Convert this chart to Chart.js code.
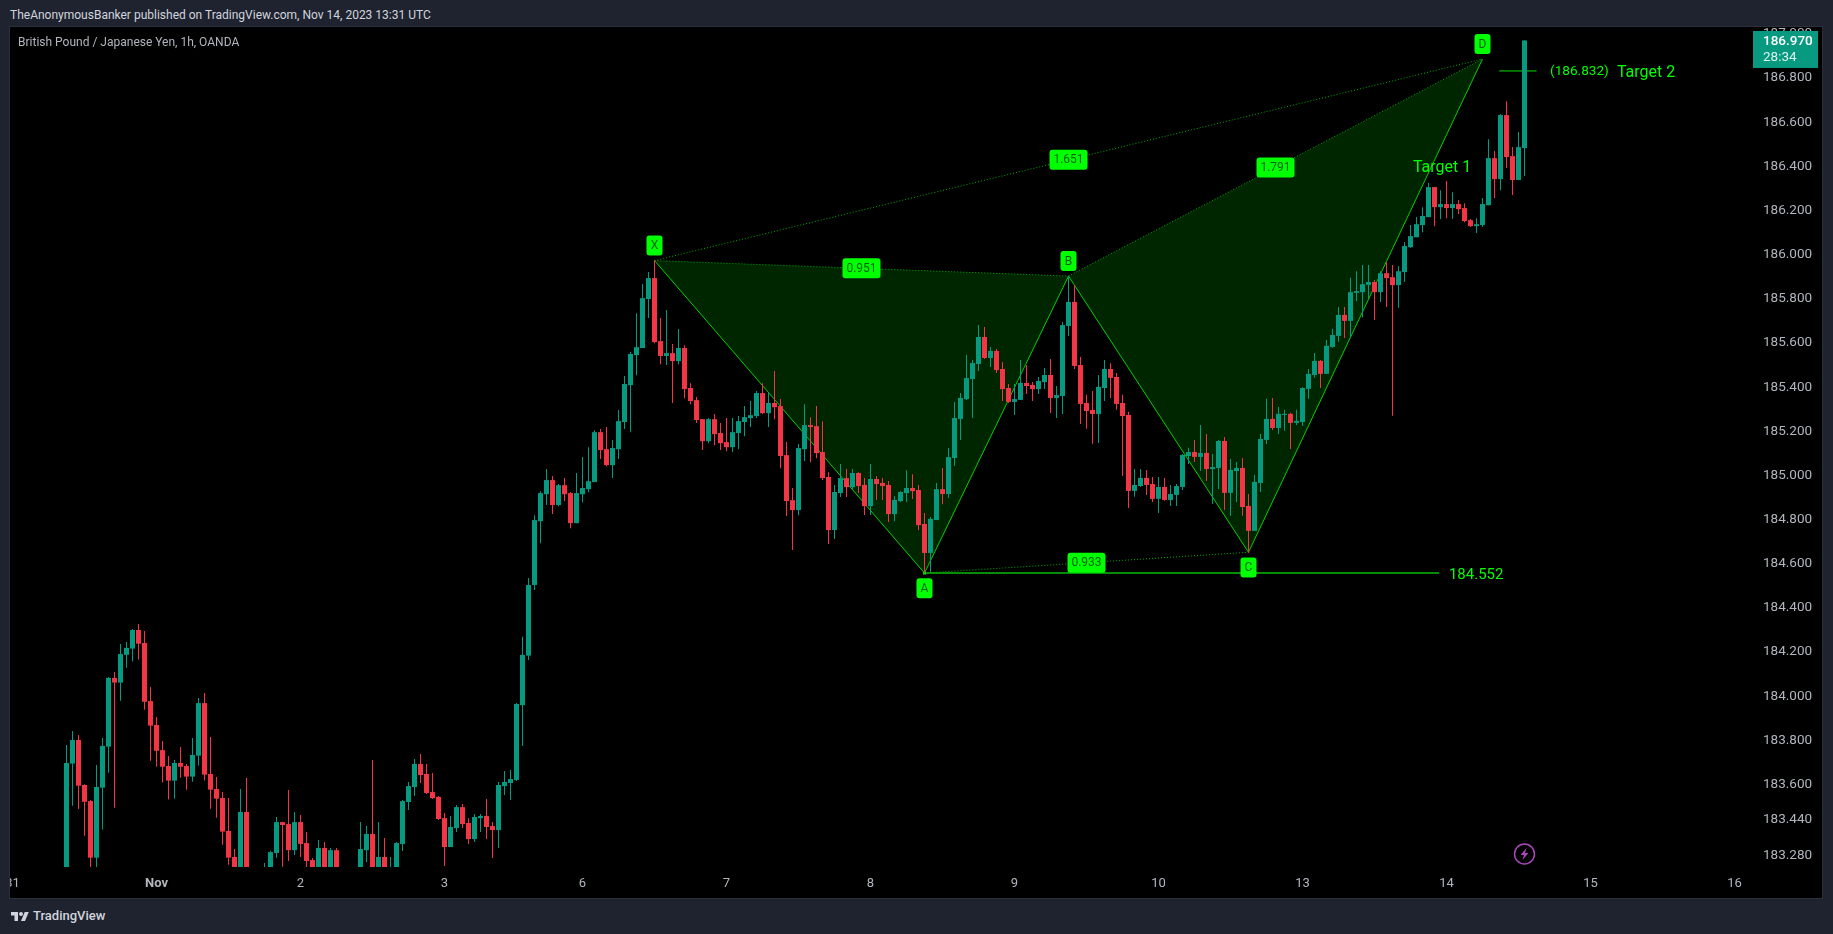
<!DOCTYPE html>
<html>
<head>
<meta charset="utf-8">
<title>GBP/JPY 1h</title>
<script src="https://cdn.jsdelivr.net/npm/chart.js@4"></script>
<style>
    html, body { margin: 0; padding: 0; width: 1833px; height: 934px; overflow: hidden; background: #1f2330; font-family: Roboto, sans-serif; }
    #header { position: absolute; left: 10px; top: 7px; font-size: 12px; line-height: 16px; color: #d1d4dc; white-space: nowrap; }
    #pane { position: absolute; left: 9px; top: 26px; width: 1812px; height: 871px; background: #000; border: 1px solid #2c303c; }
    #pane canvas { position: absolute; left: 0; top: 0; }
    #title { position: absolute; left: 8px; top: 7px; font-size: 12px; line-height: 16px; color: #b2b5be; white-space: nowrap; }
    #footer { position: absolute; left: 10px; top: 907px; height: 18px; font-size: 13px; line-height: 18px; font-weight: 500; color: #d1d4dc; }
    #footer svg { position: absolute; left: 0; top: 3px; }
    #footer span { position: absolute; left: 23px; top: 0; white-space: nowrap; }
</style>
</head>
<body>
<div id="header">TheAnonymousBanker published on TradingView.com, Nov 14, 2023 13:31 UTC</div>
<div id="pane">
    <canvas id="chart" width="1812" height="871"></canvas>
    <div id="title">British Pound / Japanese Yen, 1h, OANDA</div>
</div>
<div id="footer">
    <svg width="20" height="12" viewBox="0 0 36 24"><path fill="#d1d4dc" d="M14 22H7V11H0V4h14v18zM28 22h-8l7.5-18h8L28 22z"/><circle fill="#d1d4dc" cx="20" cy="8" r="4"/></svg>
    <span>TradingView</span>
</div>
<script>
'use strict';

// Hourly candles, one entry per bar. Anything under the axis floor is clipped in the original too.
const openPrices = [
    183.100,183.695,183.802,183.598,183.525,183.269,183.586,183.772,184.083,184.062,
    184.188,184.216,184.300,184.241,183.978,183.870,183.756,183.684,183.618,183.698,
    183.684,183.636,183.731,183.969,183.648,183.580,183.539,183.390,183.272,183.150,
    183.476,183.150,183.120,183.100,183.180,183.290,183.430,183.421,183.303,183.430,
    183.335,183.258,183.150,183.313,183.150,183.303,183.150,183.120,183.150,183.150,
    183.303,183.376,183.150,183.272,183.150,183.200,183.331,183.521,183.589,183.693,
    183.648,183.566,183.544,183.448,183.317,183.403,183.498,183.426,183.353,183.448,
    183.458,183.412,183.394,183.593,183.607,183.621,183.960,184.184,184.504,184.793,
    184.915,184.979,184.866,184.956,184.920,184.784,184.915,184.938,184.970,185.196,
    185.119,185.047,185.119,185.242,185.409,185.545,185.577,185.799,185.894,185.608,
    185.541,185.554,185.518,185.577,185.396,185.341,185.255,185.155,185.255,185.192,
    185.151,185.128,185.192,185.242,185.260,185.269,185.373,185.282,185.328,185.314,
    185.092,184.888,184.843,185.119,185.228,185.223,185.106,184.993,184.753,184.920,
    184.988,184.947,185.011,184.957,184.861,184.984,184.966,184.957,184.825,184.884,
    184.920,184.943,184.934,184.780,184.649,184.798,184.938,184.916,185.079,185.256,
    185.346,185.437,185.505,185.627,185.532,185.564,185.482,185.396,185.333,185.342,
    185.419,185.410,185.391,185.423,185.455,185.351,185.360,185.677,185.786,185.500,
    185.328,185.297,185.278,185.396,185.482,185.446,185.328,185.274,184.930,184.952,
    184.989,184.961,184.894,184.948,184.889,184.912,184.948,185.088,185.106,185.084,
    185.102,185.029,185.034,185.156,184.921,185.020,185.034,184.862,184.749,184.966,
    185.161,185.256,185.215,185.274,185.279,185.238,185.242,185.392,185.455,185.519,
    185.460,185.582,185.632,185.727,185.700,185.827,185.830,185.863,185.876,185.830,
    185.916,185.898,185.862,185.921,186.034,186.079,186.134,186.170,186.306,186.215,
    186.229,186.211,186.229,186.211,186.156,186.129,186.134,186.224,186.437,186.342,
    186.632,186.446,186.338,186.483
];
const closePrices = [
    183.698,183.802,183.595,183.522,183.269,183.589,183.775,184.083,184.062,184.191,
    184.219,184.300,184.238,183.975,183.867,183.753,183.681,183.618,183.698,183.681,
    183.636,183.734,183.969,183.645,183.577,183.536,183.387,183.269,183.150,183.476,
    183.150,183.120,183.150,183.180,183.294,183.430,183.417,183.303,183.430,183.331,
    183.254,183.200,183.313,183.150,183.303,183.150,183.120,183.150,183.120,183.308,
    183.376,183.150,183.272,183.150,183.200,183.335,183.525,183.593,183.693,183.643,
    183.562,183.539,183.444,183.317,183.408,183.498,183.421,183.353,183.453,183.458,
    183.408,183.394,183.598,183.612,183.625,183.965,184.187,184.504,184.798,184.920,
    184.979,184.866,184.956,184.915,184.784,184.920,184.943,184.974,185.196,185.115,
    185.047,185.124,185.246,185.414,185.550,185.581,185.803,185.894,185.604,185.541,
    185.554,185.518,185.577,185.391,185.337,185.251,185.155,185.255,185.187,185.146,
    185.128,185.196,185.246,185.264,185.273,185.373,185.282,185.328,185.309,185.088,
    184.884,184.843,185.124,185.228,185.219,185.101,184.988,184.753,184.925,184.988,
    184.947,185.011,184.952,184.861,184.984,184.961,184.952,184.825,184.889,184.925,
    184.943,184.929,184.775,184.649,184.803,184.938,184.916,185.083,185.260,185.351,
    185.441,185.509,185.627,185.532,185.564,185.477,185.391,185.333,185.346,185.419,
    185.405,185.391,185.428,185.455,185.351,185.364,185.681,185.786,185.496,185.324,
    185.292,185.278,185.401,185.482,185.442,185.324,185.269,184.930,184.957,184.989,
    184.957,184.894,184.948,184.889,184.916,184.952,185.093,185.106,185.084,185.102,
    185.029,185.038,185.156,184.921,185.025,185.034,184.857,184.749,184.971,185.165,
    185.256,185.215,185.279,185.279,185.238,185.247,185.396,185.460,185.519,185.460,
    185.587,185.636,185.727,185.700,185.830,185.835,185.866,185.876,185.830,185.916,
    185.894,185.862,185.925,186.039,186.084,186.138,186.175,186.306,186.215,186.229,
    186.211,186.229,186.206,186.152,186.129,186.138,186.229,186.437,186.342,186.632,
    186.442,186.338,186.487,186.970
];
const highPrices = [
    183.779,183.843,183.824,183.602,183.530,183.689,183.811,184.087,184.110,184.237,
    184.246,184.305,184.327,184.296,184.042,183.906,183.797,183.729,183.711,183.770,
    183.693,183.811,183.992,184.015,183.815,183.634,183.566,183.539,183.308,183.580,
    183.630,183.200,183.200,183.245,183.300,183.453,183.432,183.575,183.476,183.462,
    183.385,183.267,183.349,183.340,183.313,183.313,183.200,183.200,183.200,183.430,
    183.412,183.711,183.430,183.358,183.272,183.340,183.530,183.612,183.716,183.738,
    183.693,183.652,183.548,183.471,183.458,183.507,183.512,183.448,183.467,183.467,
    183.535,183.430,183.612,183.661,183.666,183.969,184.270,184.536,184.820,184.929,
    185.029,184.997,184.961,184.988,184.925,185.011,185.083,185.128,185.205,185.210,
    185.219,185.160,185.296,185.450,185.559,185.735,185.867,185.921,185.975,185.713,
    185.749,185.595,185.663,185.590,185.418,185.355,185.255,185.260,185.278,185.237,
    185.260,185.260,185.269,185.314,185.337,185.382,185.418,185.377,185.473,185.346,
    185.151,184.943,185.142,185.323,185.264,185.314,185.246,185.015,184.957,185.052,
    185.029,185.029,185.015,184.988,185.052,184.997,184.988,184.975,184.907,184.929,
    185.024,185.006,184.957,184.830,184.812,184.966,185.034,185.124,185.333,185.373,
    185.545,185.523,185.681,185.672,185.582,185.573,185.514,185.414,185.414,185.523,
    185.500,185.423,185.446,185.487,185.527,185.405,185.695,185.904,185.863,185.537,
    185.365,185.383,185.455,185.523,185.508,185.464,185.365,185.288,185.029,185.029,
    185.025,184.993,184.993,184.989,184.957,184.961,185.097,185.125,185.161,185.229,
    185.188,185.097,185.161,185.174,185.075,185.061,185.079,184.916,185.002,185.188,
    185.347,185.351,185.310,185.297,185.284,185.297,185.400,185.482,185.555,185.523,
    185.614,185.664,185.763,185.763,185.895,185.925,185.953,185.953,185.885,185.925,
    185.966,185.953,185.948,186.057,186.134,186.170,186.215,186.324,186.306,186.292,
    186.333,186.283,186.247,186.233,186.161,186.165,186.256,186.523,186.469,186.637,
    186.695,186.487,186.555,186.970
];
const lowPrices = [
    183.050,183.504,183.489,183.368,183.220,183.220,183.396,183.654,183.495,183.980,
    184.129,184.157,184.166,183.939,183.708,183.681,183.609,183.532,183.536,183.631,
    183.577,183.613,183.686,183.618,183.491,183.450,183.328,183.237,183.100,183.100,
    183.100,183.100,183.100,183.050,183.150,183.269,183.228,183.254,183.281,183.272,
    183.200,183.150,183.100,183.100,183.100,183.100,183.100,183.100,183.100,183.100,
    183.249,183.100,183.100,183.100,183.100,183.150,183.299,183.485,183.548,183.607,
    183.557,183.535,183.439,183.231,183.317,183.385,183.403,183.331,183.340,183.385,
    183.353,183.267,183.313,183.553,183.530,183.616,183.775,184.164,184.481,184.693,
    184.866,184.825,184.861,184.884,184.761,184.784,184.879,184.924,184.970,185.074,
    185.042,184.988,185.074,185.210,185.196,185.454,185.577,185.713,185.599,185.504,
    185.500,185.328,185.504,185.350,185.323,185.237,185.115,185.146,185.137,185.115,
    185.110,185.106,185.119,185.178,185.219,185.260,185.278,185.219,185.255,185.033,
    184.816,184.662,184.820,185.065,185.060,185.078,184.979,184.689,184.712,184.902,
    184.902,184.934,184.920,184.821,184.821,184.889,184.889,184.789,184.793,184.880,
    184.880,184.893,184.753,184.559,184.564,184.798,184.870,184.898,185.043,185.160,
    185.342,185.260,185.473,185.527,185.491,185.464,185.337,185.328,185.274,185.342,
    185.369,185.337,185.369,185.391,185.283,185.260,185.278,185.632,185.482,185.233,
    185.211,185.144,185.147,185.337,185.351,185.297,184.998,184.853,184.903,184.948,
    184.912,184.880,184.830,184.885,184.862,184.862,184.934,185.052,185.061,185.020,
    184.975,184.871,184.939,184.844,184.817,184.880,184.817,184.650,184.749,184.925,
    185.143,185.206,185.188,185.202,185.120,185.229,185.224,185.347,185.442,185.396,
    185.460,185.578,185.605,185.623,185.627,185.790,185.717,185.794,185.704,185.785,
    185.763,185.270,185.759,185.876,186.030,186.079,186.102,186.170,186.129,186.161,
    186.165,186.161,186.184,186.147,186.125,186.098,186.125,186.224,186.256,186.292,
    186.392,186.270,186.338,186.356
];

// Axes
const dayTickBars = [-9, 15, 39, 63, 86, 110, 134, 158, 182, 206, 230, 254, 278];
const dayTickLabels = ['31', 'Nov', '2', '3', '6', '7', '8', '9', '10', '13', '14', '15', '16'];
const priceTicks = [183.28, 183.44, 183.6, 183.8, 184, 184.2, 184.4, 184.6, 184.8, 185, 185.2, 185.4, 185.6, 185.8, 186, 186.2, 186.4, 186.6, 186.8, 187];
const barAxisMin = -9.4167;
const barAxisMax = 281.4167;
const priceAxisMin = 183.2267;
const priceAxisMax = 187.031;

// Harmonic pattern pivots and the ratio drawn between pairs of them
const pivotNames = ['X', 'A', 'B', 'C', 'D'];
const pivotBars = [98, 143, 167, 197, 236];
const pivotPrices = [185.973, 184.558, 185.903, 184.652, 186.886];
const pivotLabelBelow = [false, true, false, true, false];
const ratioTexts = ['0.951', '1.651', '0.933', '1.791'];
const ratioFrom = [0, 0, 1, 2];
const ratioTo = [2, 4, 3, 4];

// Levels and free text
const stopLevelBars = [143, 228.75];
const stopLevelPrice = 184.558;
const targetLevelBars = [238.8, 245];
const targetLevelPrice = 186.832;
const noteTexts = ['184.552', '(186.832)', 'Target 2', 'Target 1'];
const noteBars = [230.4, 247.25, 258.4, 224.4];
const notePrices = [184.55, 186.827, 186.824, 186.393];
const noteFontSizes = [15, 13.6, 16, 16];

const lastPrice = 186.97;
const lastPriceText = '186.970';
const countdownText = '28:34';

const GREEN = '#089981';
const RED = '#f23645';
const LIME = '#00ff00';
const LABEL_FONT = '12px Roboto, sans-serif';
const NO_PADDING = { left: 0, top: 0, right: 0, bottom: 0 };

const candleColors = closePrices.map((c, i) => (c >= openPrices[i] ? GREEN : RED));
const pivotPoint = (n) => ({ x: pivotBars[n], y: pivotPrices[n] });

function lineDataset(points, extra) {
    return Object.assign({
        type: 'line',
        data: points,
        borderWidth: 1,
        pointRadius: 0,
        tension: 0,
        fill: false,
        order: 5
    }, extra);
}

// Filled wings of the pattern: X-A-B and B-C-D
const wingFills = [[0, 1, 2, 0], [2, 3, 4, 2]].map((wing) => lineDataset(wing.map(pivotPoint), {
    borderWidth: 0,
    borderColor: 'rgba(0,0,0,0)',
    backgroundColor: 'rgba(0,255,0,0.15)',
    fill: 'shape',
    order: 6
}));

const solidLegs = lineDataset([0, 1, 2, 3, 4].map(pivotPoint), { borderColor: '#00d000' });

const dottedLegs = ratioTexts.map((t, r) => lineDataset([pivotPoint(ratioFrom[r]), pivotPoint(ratioTo[r])], {
    borderColor: '#00b000',
    borderDash: [1, 2]
}));

const stopLevel = lineDataset(stopLevelBars.map((x) => ({ x, y: stopLevelPrice })), {
    borderColor: '#078c07',
    borderWidth: 2,
    pointRadius: [2, 0],
    pointStyle: 'rect',
    pointBackgroundColor: LIME,
    pointBorderWidth: 0
});

const targetLevel = lineDataset(targetLevelBars.map((x) => ({ x, y: targetLevelPrice })), {
    borderColor: '#00e000'
});

const wicks = {
    data: lowPrices.map((l, i) => ({ x: i, y: [l, highPrices[i]] })),
    backgroundColor: candleColors,
    barThickness: 1,
    borderWidth: 0,
    inflateAmount: 0,
    order: 2
};

const bodies = {
    data: openPrices.map((o, i) => ({ x: i, y: [o, closePrices[i]] })),
    backgroundColor: candleColors,
    barThickness: 5,
    borderWidth: 0,
    inflateAmount: 0,
    order: 1
};

function drawPill(ctx, text, cx, cy, w) {
    ctx.fillStyle = LIME;
    ctx.beginPath();
    ctx.roundRect(cx - w / 2, cy - 10, w, 20, 3);
    ctx.fill();
    ctx.fillStyle = '#0b5f0b';
    ctx.font = LABEL_FONT;
    ctx.textAlign = 'center';
    ctx.textBaseline = 'middle';
    ctx.fillText(text, cx, cy + 0.5);
}

const annotations = {
    id: 'annotations',
    afterDatasetsDraw(chart) {
        const { ctx, scales: { x, y } } = chart;
        ctx.save();
        pivotNames.forEach((name, n) => {
            const offset = pivotLabelBelow[n] ? 15.3 : -15;
            drawPill(ctx, name, x.getPixelForValue(pivotBars[n]), y.getPixelForValue(pivotPrices[n]) + offset, 16);
        });
        ratioTexts.forEach((text, r) => {
            const a = ratioFrom[r];
            const b = ratioTo[r];
            drawPill(ctx, text,
                x.getPixelForValue((pivotBars[a] + pivotBars[b]) / 2),
                y.getPixelForValue((pivotPrices[a] + pivotPrices[b]) / 2), 38);
        });
        ctx.fillStyle = LIME;
        ctx.textAlign = 'left';
        ctx.textBaseline = 'middle';
        noteTexts.forEach((text, n) => {
            ctx.font = noteFontSizes[n] + 'px Roboto, sans-serif';
            ctx.fillText(text, x.getPixelForValue(noteBars[n]), y.getPixelForValue(notePrices[n]));
        });

        // Alert marker under the last bar
        const bx = x.getPixelForValue(closePrices.length - 1);
        const by = y.bottom - 13;
        ctx.strokeStyle = '#ab47bc';
        ctx.lineWidth = 1.5;
        ctx.beginPath();
        ctx.arc(bx, by, 10, 0, Math.PI * 2);
        ctx.stroke();
        ctx.fillStyle = '#ab47bc';
        ctx.beginPath();
        ctx.moveTo(bx + 2, by - 6);
        ctx.lineTo(bx - 4, by + 1);
        ctx.lineTo(bx - 0.5, by + 1);
        ctx.lineTo(bx - 2, by + 6);
        ctx.lineTo(bx + 4, by - 1);
        ctx.lineTo(bx + 0.5, by - 1);
        ctx.closePath();
        ctx.fill();
        ctx.restore();
    },
    afterDraw(chart) {
        // Last price tag sits over the axis labels
        const { ctx, chartArea, scales: { y } } = chart;
        const top = y.getPixelForValue(lastPrice) - 9.5;
        ctx.save();
        ctx.fillStyle = GREEN;
        ctx.fillRect(chartArea.right - 2, top, 65, 37);
        ctx.textAlign = 'left';
        ctx.textBaseline = 'middle';
        ctx.fillStyle = '#ffffff';
        ctx.font = '500 13.5px Roboto, sans-serif';
        ctx.fillText(lastPriceText, chartArea.right + 8, top + 11);
        ctx.fillStyle = '#d9f2ec';
        ctx.font = '13.5px Roboto, sans-serif';
        ctx.fillText(countdownText, chartArea.right + 8, top + 27);
        ctx.restore();
    }
};

// First day label and top price label hang over the edge; they must not push the plot area in
function pinPlotEdges(axis) {
    axis.paddingLeft = 0;
    axis.paddingRight = 0;
    axis.paddingTop = 0;
    axis.paddingBottom = 0;
    axis._margins = Object.assign({}, NO_PADDING);
    axis.getPadding = () => NO_PADDING;
}

new Chart(document.getElementById('chart').getContext('2d'), {
    type: 'bar',
    data: {
        datasets: [bodies, wicks, ...wingFills, solidLegs, ...dottedLegs, stopLevel, targetLevel]
    },
    plugins: [annotations],
    options: {
        responsive: false,
        animation: false,
        devicePixelRatio: 1,
        grouped: false,
        layout: { padding: 0, autoPadding: false },
        plugins: {
            legend: { display: false },
            tooltip: { enabled: false }
        },
        scales: {
            x: {
                type: 'linear',
                bounds: 'data',
                offset: false,
                min: barAxisMin,
                max: barAxisMax,
                grid: { display: false, drawTicks: false },
                border: { display: false },
                afterBuildTicks: (axis) => { axis.ticks = dayTickBars.map((value) => ({ value })); },
                afterFit: (axis) => {
                    axis.height = 31;
                    pinPlotEdges(axis);
                },
                ticks: {
                    autoSkip: false,
                    maxRotation: 0,
                    padding: 9,
                    color: '#b2b5be',
                    font: (ctx) => ({
                        family: 'Roboto, sans-serif',
                        size: 13,
                        weight: ctx.tick && ctx.tick.value === 15 ? '700' : '400'
                    }),
                    callback: (value) => dayTickLabels[dayTickBars.indexOf(value)]
                }
            },
            y: {
                type: 'linear',
                bounds: 'data',
                position: 'right',
                min: priceAxisMin,
                max: priceAxisMax,
                grid: { display: false, drawTicks: false },
                border: { display: false },
                afterBuildTicks: (axis) => { axis.ticks = priceTicks.map((value) => ({ value })); },
                afterFit: (axis) => {
                    axis.width = 67;
                    pinPlotEdges(axis);
                },
                ticks: {
                    autoSkip: false,
                    padding: 8,
                    color: '#b2b5be',
                    font: { family: 'Roboto, sans-serif', size: 13.5 },
                    callback: (value) => value.toFixed(3)
                }
            }
        }
    }
});
</script>
</body>
</html>
